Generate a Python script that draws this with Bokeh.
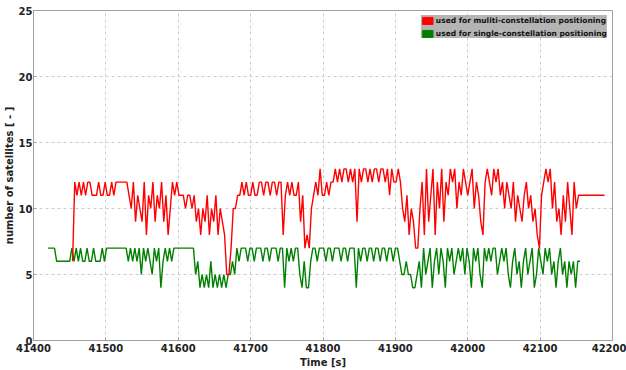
from bokeh.plotting import figure
from bokeh.models import Range1d, FixedTicker, Legend, LegendItem
from bokeh.embed import file_html
from bokeh.resources import INLINE

# ---- data (samples every 3 s) ----
red_start = 41454
green_start = 41420
sample_step = 3

red_values = [
    6, 12, 11, 12, 11, 12, 11, 12, 12, 11,
    11, 11, 12, 11, 11, 12, 11, 11, 12, 11,
    12, 12, 12, 12, 12, 12, 11, 10, 12, 9,
    11, 10, 9, 12, 8, 11, 10, 12, 9, 11,
    10, 12, 9, 11, 8, 10, 12, 11, 12, 11,
    11, 11, 10, 11, 11, 10, 11, 9, 10, 8,
    10, 9, 11, 8, 10, 9, 11, 8, 10, 9,
    8, 5, 5, 7, 10, 10, 11, 11, 12, 11,
    12, 11, 11, 12, 11, 11, 12, 12, 11, 12,
    12, 11, 12, 12, 11, 12, 12, 8, 11, 12,
    11, 12, 11, 11, 12, 9, 11, 7, 8, 7,
    10, 11, 12, 11, 13, 11, 11, 12, 11, 12,
    12, 13, 12, 13, 12, 13, 13, 12, 13, 12,
    13, 9, 13, 12, 13, 13, 12, 13, 12, 13,
    13, 12, 13, 13, 12, 13, 11, 13, 12, 12,
    13, 12, 10, 9, 11, 8, 10, 9, 7, 7,
    10, 12, 8, 13, 9, 11, 13, 8, 12, 10,
    13, 9, 12, 11, 13, 12, 13, 10, 12, 11,
    13, 12, 11, 12, 13, 10, 12, 11, 9, 8,
    12, 13, 12, 11, 13, 12, 13, 11, 12, 10,
    12, 11, 10, 12, 9, 11, 10, 9, 11, 12,
    10, 11, 9, 10, 8, 7, 11, 12, 13, 12,
    13, 10, 12, 9, 10, 8, 11, 9, 12, 10,
    8, 12, 10, 11, 11, 11, 11, 11, 11, 11,
    11, 11, 11, 11, 11, 11,
]

green_values = [
    7, 7, 7, 7, 6, 6, 6, 6, 6, 6,
    6, 7, 6, 7, 6, 7, 6, 6, 7, 6,
    6, 7, 6, 6, 6, 7, 6, 7, 7, 7,
    7, 7, 7, 7, 7, 7, 7, 6, 7, 6,
    7, 6, 7, 5, 7, 6, 7, 6, 5, 7,
    6, 7, 4, 6, 7, 6, 7, 6, 7, 7,
    7, 7, 7, 7, 7, 7, 7, 7, 5, 6,
    4, 5, 4, 5, 4, 6, 4, 5, 4, 5,
    4, 5, 4, 5, 5, 6, 5, 7, 6, 7,
    7, 7, 6, 7, 7, 6, 7, 7, 7, 6,
    7, 7, 6, 7, 7, 7, 6, 7, 7, 4,
    7, 6, 7, 6, 7, 7, 5, 4, 6, 4,
    4, 6, 7, 7, 6, 7, 7, 7, 6, 7,
    7, 6, 7, 7, 7, 6, 7, 7, 6, 7,
    7, 7, 4, 7, 6, 7, 7, 6, 7, 7,
    6, 7, 7, 6, 7, 7, 6, 7, 7, 6,
    7, 7, 6, 5, 5, 6, 5, 5, 4, 4,
    5, 6, 4, 7, 5, 6, 7, 4, 6, 7,
    5, 7, 6, 4, 7, 6, 7, 5, 6, 7,
    6, 7, 5, 7, 6, 4, 7, 6, 7, 5,
    4, 7, 6, 7, 6, 7, 7, 5, 6, 7,
    6, 7, 5, 4, 6, 7, 5, 6, 4, 6,
    7, 5, 6, 7, 4, 5, 7, 6, 5, 7,
    6, 7, 5, 6, 4, 6, 7, 5, 6, 4,
    6, 5, 6, 4, 6, 6,
]

x_ticks = [41400, 41500, 41600, 41700, 41800, 41900, 42000, 42100, 42200]
y_ticks = [0, 5, 10, 15, 20, 25]
legend_labels = ["used for muliti-constellation positioning",
                 "used for single-constellation positioning"]
red_color = "#ff0000"
green_color = "#008000"

red_times = [red_start + i * sample_step for i in range(len(red_values))]
green_times = [green_start + i * sample_step for i in range(len(green_values))]

FONT = "DejaVu Sans"

p = figure(width=626, height=370, output_backend="svg", toolbar_location=None,
           x_range=Range1d(x_ticks[0], x_ticks[-1]), y_range=Range1d(y_ticks[0], y_ticks[-1]),
           min_border_left=3, min_border_right=14, min_border_top=10, min_border_bottom=0,
           background_fill_color="white", border_fill_color="white")

p.outline_line_color = "#a0a0a0"
p.outline_line_width = 1

for ax in (p.xaxis[0], p.yaxis[0]):
    ax.axis_line_color = "#a0a0a0"
    ax.major_tick_line_color = "#a0a0a0"
    ax.major_tick_in = 3
    ax.major_tick_out = 0
    ax.minor_tick_line_color = None
    ax.major_label_text_font = FONT
    ax.major_label_text_font_style = "bold"
    ax.major_label_text_font_size = "10px"
    ax.major_label_text_color = "#222222"
    ax.axis_label_text_font = FONT
    ax.axis_label_text_font_style = "bold"
    ax.axis_label_text_font_size = "10px"
    ax.axis_label_text_color = "#222222"

p.xaxis[0].major_label_standoff = 3
p.xaxis[0].axis_label_standoff = 2
p.yaxis[0].major_label_standoff = 1
p.yaxis[0].axis_label_standoff = 1

p.xaxis[0].ticker = FixedTicker(ticks=x_ticks)
p.yaxis[0].ticker = FixedTicker(ticks=y_ticks)
p.xaxis[0].axis_label = "Time [s]"
p.yaxis[0].axis_label = "number of satellites [ - ]"

p.xgrid[0].ticker = FixedTicker(ticks=x_ticks)
p.ygrid[0].ticker = FixedTicker(ticks=y_ticks)
for g in (p.xgrid[0], p.ygrid[0]):
    g.grid_line_color = "#cccccc"
    g.grid_line_dash = "3 3"
    g.grid_line_width = 1

p.line(green_times, green_values, line_color=green_color, line_width=1.4)
p.line(red_times, red_values, line_color=red_color, line_width=1.4)

# legend swatches (filled boxes); hidden renderers that only feed the legend
sw_red = p.quad(left=[red_times[0]], right=[red_times[1]], bottom=[red_values[0]],
                top=[red_values[1]], fill_color=red_color, line_color=red_color, visible=False)
sw_green = p.quad(left=[green_times[0]], right=[green_times[1]], bottom=[green_values[0]],
                  top=[green_values[1]], fill_color=green_color, line_color=green_color,
                  visible=False)

legend = Legend(items=[LegendItem(label=legend_labels[0], renderers=[sw_red]),
                       LegendItem(label=legend_labels[1], renderers=[sw_green])],
                location="top_right", click_policy="none")
legend.background_fill_color = "#b4b4b4"
legend.background_fill_alpha = 1.0
legend.border_line_color = None
legend.label_text_font = FONT
legend.label_text_font_style = "bold"
legend.label_text_font_size = "7.5px"
legend.label_text_color = "#111111"
legend.glyph_width = 13
legend.glyph_height = 9
legend.label_height = 10
legend.label_standoff = 2
legend.spacing = 3
legend.padding = 3
legend.margin = 5
p.add_layout(legend)

open("out.html", "w").write(file_html(p, INLINE))
